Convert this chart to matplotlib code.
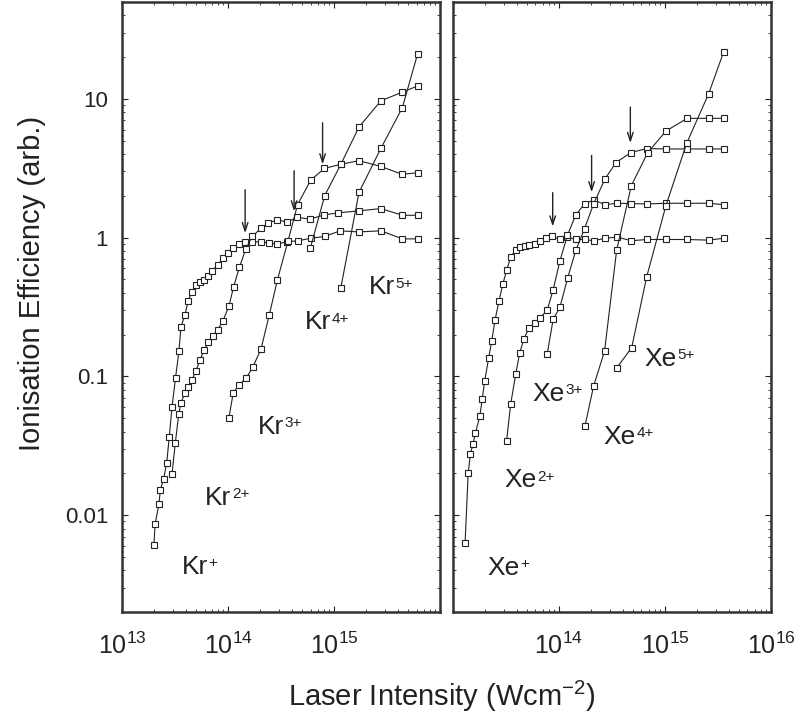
import matplotlib
matplotlib.use('Agg')
import matplotlib.pyplot as plt

# Ionisation efficiency curves for Kr and Xe
kr1_I = [2.0e13, 2.05e13, 2.23e13, 2.30e13, 2.47e13, 2.64e13, 2.79e13, 2.96e13, 3.20e13, 3.44e13,
         3.60e13, 3.93e13, 4.21e13, 4.57e13, 4.99e13, 5.41e13, 5.91e13, 6.50e13, 7.11e13, 7.96e13,
         8.97e13, 1.01e14, 1.12e14, 1.27e14, 1.45e14, 1.68e14, 2.05e14, 2.41e14, 2.90e14, 3.62e14,
         4.60e14, 6.0e14, 8.17e14, 1.14e15, 1.71e15, 2.77e15, 4.41e15, 6.16e15]
kr1_Y = [0.0061, 0.0086, 0.0120, 0.0152, 0.0183, 0.0238, 0.0365, 0.060, 0.098, 0.152,
         0.228, 0.279, 0.351, 0.409, 0.452, 0.479, 0.499, 0.532, 0.578, 0.635,
         0.708, 0.775, 0.838, 0.895, 0.93, 0.935, 0.93, 0.92, 0.90, 0.935,
         0.95, 0.99, 1.02, 1.12, 1.10, 1.12, 0.98, 0.98]

kr2_I = [2.96e13, 3.18e13, 3.43e13, 3.60e13, 3.93e13, 4.22e13, 4.57e13, 4.99e13, 5.44e13, 5.94e13,
         6.52e13, 7.18e13, 7.96e13, 8.91e13, 1.02e14, 1.13e14, 1.28e14, 1.47e14, 1.69e14, 2.05e14,
         2.40e14, 2.92e14, 3.62e14, 4.51e14, 5.94e14, 8.05e14, 1.10e15, 1.71e15, 2.77e15, 4.41e15,
         6.16e15]
kr2_Y = [0.0198, 0.0329, 0.0538, 0.0646, 0.0762, 0.0842, 0.0942, 0.110, 0.131, 0.155,
         0.176, 0.196, 0.216, 0.249, 0.321, 0.443, 0.611, 0.828, 1.02, 1.17,
         1.28, 1.34, 1.30, 1.40, 1.36, 1.46, 1.51, 1.56, 1.62, 1.45,
         1.45]

kr3_I = [1.02e14, 1.12e14, 1.27e14, 1.48e14, 1.71e14, 2.05e14, 2.45e14, 2.92e14, 3.68e14, 4.53e14,
         6.03e14, 8.13e14, 1.16e15, 1.72e15, 2.77e15, 4.41e15, 6.14e15]
kr3_Y = [0.0503, 0.0762, 0.0867, 0.0969, 0.116, 0.158, 0.277, 0.495, 0.946, 1.73,
         2.60, 3.16, 3.38, 3.59, 3.26, 2.86, 2.94]

kr4_I = [5.97e14, 8.17e14, 1.16e15, 1.72e15, 2.77e15, 4.41e15, 6.14e15]
kr4_Y = [0.838, 2.01, 3.38, 6.28, 9.70, 11.2, 12.4]

kr5_I = [1.16e15, 1.72e15, 2.77e15, 4.41e15, 6.14e15]
kr5_Y = [0.436, 2.12, 4.41, 8.65, 21.1]

xe1_I = [1.30e13, 1.39e13, 1.46e13, 1.54e13, 1.63e13, 1.79e13, 1.89e13, 1.99e13, 2.17e13, 2.32e13,
         2.49e13, 2.72e13, 2.96e13, 3.22e13, 3.51e13, 3.89e13, 4.27e13, 4.73e13, 5.25e13, 5.94e13,
         6.69e13, 7.62e13, 8.68e13, 1.03e14, 1.20e14, 1.44e14, 1.74e14, 2.12e14, 2.72e14, 3.55e14,
         4.81e14, 6.72e14, 1.02e15, 1.60e15, 2.58e15, 3.58e15]
xe1_Y = [0.00625, 0.0200, 0.0275, 0.0323, 0.0391, 0.0518, 0.0692, 0.0923, 0.136, 0.180,
         0.254, 0.351, 0.467, 0.589, 0.728, 0.81, 0.86, 0.875, 0.88, 0.90,
         0.946, 0.99, 1.02, 0.97, 1.01, 0.97, 0.97, 0.95, 0.99, 1.01,
         0.95, 0.97, 0.97, 0.97, 0.96, 0.99]

xe2_I = [3.20e13, 3.50e13, 3.91e13, 4.26e13, 4.68e13, 5.19e13, 5.96e13, 6.68e13, 7.74e13, 8.78e13,
         1.02e14, 1.20e14, 1.44e14, 1.74e14, 2.12e14, 2.72e14, 3.55e14, 4.81e14, 6.72e14, 1.02e15,
         1.60e15, 2.58e15, 3.58e15]
xe2_Y = [0.0340, 0.0632, 0.104, 0.148, 0.187, 0.222, 0.244, 0.265, 0.301, 0.417,
         0.679, 1.04, 1.46, 1.75, 1.87, 1.73, 1.77, 1.76, 1.75, 1.77,
         1.77, 1.77, 1.73]

xe3_I = [7.74e13, 8.81e13, 1.02e14, 1.21e14, 1.44e14, 1.74e14, 2.12e14, 2.72e14, 3.45e14, 4.78e14,
         6.72e14, 1.02e15, 1.60e15, 2.58e15, 3.58e15]
xe3_Y = [0.145, 0.258, 0.315, 0.516, 0.81, 1.16, 1.75, 2.66, 3.48, 4.11,
         4.39, 4.36, 4.36, 4.36, 4.36]

xe4_I = [1.76e14, 2.12e14, 2.69e14, 3.50e14, 4.81e14, 6.87e14, 1.02e15, 1.62e15, 2.58e15, 3.58e15]
xe4_Y = [0.0441, 0.0851, 0.152, 0.815, 2.37, 4.10, 5.87, 7.25, 7.25, 7.25]

xe5_I = [3.50e14, 4.85e14, 6.72e14, 1.02e15, 1.60e15, 2.58e15, 3.58e15]
xe5_Y = [0.115, 0.161, 0.523, 1.7, 4.79, 10.9, 21.9]

# saturation arrows: intensity, tail and tip heights
kr_arrow_I = [1.45e14, 4.2e14, 7.8e14]
kr_arrow_tail = [2.32, 3.18, 7.05]
kr_arrow_tip = [1.03, 1.48, 3.23]
xe_arrow_I = [8.72e13, 2.03e14, 4.71e14]
xe_arrow_tail = [2.21, 4.10, 9.15]
xe_arrow_tip = [1.15, 2.03, 4.60]

# charge state labels (intensity, efficiency of the text baseline)
charges = ['+', '2+', '3+', '4+', '5+']
kr_label_I = [3.66e13, 6.06e13, 1.91e14, 5.30e14, 2.11e15]
kr_label_Y = [0.00377, 0.0119, 0.0384, 0.218, 0.390]
xe_label_I = [2.12e13, 3.05e13, 5.65e13, 2.62e14, 6.34e14]
xe_label_Y = [0.00371, 0.0159, 0.0665, 0.0325, 0.119]

x_ticks = [1e13, 1e14, 1e15, 1e16]
kr_xticklabels = [r'$\mathregular{10^{13}}$', r'$\mathregular{10^{14}}$', r'$\mathregular{10^{15}}$', '']
xe_xticklabels = ['', r'$\mathregular{10^{14}}$', r'$\mathregular{10^{15}}$', r'$\mathregular{10^{16}}$']
y_ticks = [0.01, 0.1, 1, 10]
y_ticklabels = ['0.01', '0.1', '1', '10']

plt.rcParams['font.family'] = ['Liberation Sans', 'DejaVu Sans']
plt.rcParams['mathtext.fontset'] = 'custom'
plt.rcParams['mathtext.rm'] = 'Liberation Sans'
plt.rcParams['mathtext.it'] = 'Liberation Sans:italic'
plt.rcParams['mathtext.bf'] = 'Liberation Sans:bold'

ink = '#222222'

fig = plt.figure(figsize=(7.96, 7.19), dpi=100)
ax_kr = fig.add_axes([0.1533, 0.1488, 0.3995, 0.8484])
ax_xe = fig.add_axes([0.5691, 0.1488, 0.3995, 0.8484])


def draw_panel(ax, curves, arrow_I, arrow_tail, arrow_tip, element, label_I, label_Y, xticklabels):
    for I, Y in curves:
        ax.plot(I, Y, '-s', color=ink, lw=0.8, ms=4.0, mfc='white', mec=ink, mew=0.8)
    for x, y0, y1 in zip(arrow_I, arrow_tail, arrow_tip):
        ax.annotate('', xy=(x, y1), xytext=(x, y0),
                    arrowprops=dict(arrowstyle='->,head_length=0.6,head_width=0.2', color=ink, lw=1.0))
    for q, x, y in zip(charges, label_I, label_Y):
        t = ax.text(x, y, element, fontsize=19, color=ink, ha='left', va='baseline')
        # superscript charge placed right after the element symbol
        ax.annotate(q, xy=(1, 1), xycoords=t, xytext=(0.5, -1), textcoords='offset points',
                    fontsize=11, color=ink, ha='left', va='top')

    ax.set_xscale('log')
    ax.set_yscale('log')
    ax.set_xlim(1e13, 1e16)
    ax.set_ylim(0.002, 50)
    ax.set_xticks(x_ticks)
    ax.set_xticklabels(xticklabels)
    ax.set_yticks(y_ticks)
    ax.tick_params(which='both', direction='in', top=True, right=True, color=ink)
    ax.tick_params(which='major', length=4, width=0.8)
    ax.tick_params(which='minor', length=2.5, width=0.6)
    ax.tick_params(axis='x', which='major', labelsize=18, pad=15, labelcolor=ink)
    for s in ax.spines.values():
        s.set_linewidth(1.8)
        s.set_color('#333333')


draw_panel(ax_kr, [(kr1_I, kr1_Y), (kr2_I, kr2_Y), (kr3_I, kr3_Y), (kr4_I, kr4_Y), (kr5_I, kr5_Y)],
           kr_arrow_I, kr_arrow_tail, kr_arrow_tip, 'Kr', kr_label_I, kr_label_Y, kr_xticklabels)
draw_panel(ax_xe, [(xe1_I, xe1_Y), (xe2_I, xe2_Y), (xe3_I, xe3_Y), (xe4_I, xe4_Y), (xe5_I, xe5_Y)],
           xe_arrow_I, xe_arrow_tail, xe_arrow_tip, 'Xe', xe_label_I, xe_label_Y, xe_xticklabels)

ax_kr.set_yticklabels(y_ticklabels)
ax_kr.tick_params(axis='y', which='major', labelsize=16, pad=10, labelcolor=ink)
ax_xe.set_yticklabels([])

fig.text(0.5547, 0.031, r'Laser Intensity (Wcm$\mathregular{^{-2}}$)', fontsize=21, color=ink,
         ha='center', va='center')
fig.text(0.040, 0.606, 'Ionisation Efficiency (arb.)', fontsize=21, color=ink,
         rotation=90, ha='center', va='center')

plt.savefig('out.png', dpi=100, facecolor='white')
